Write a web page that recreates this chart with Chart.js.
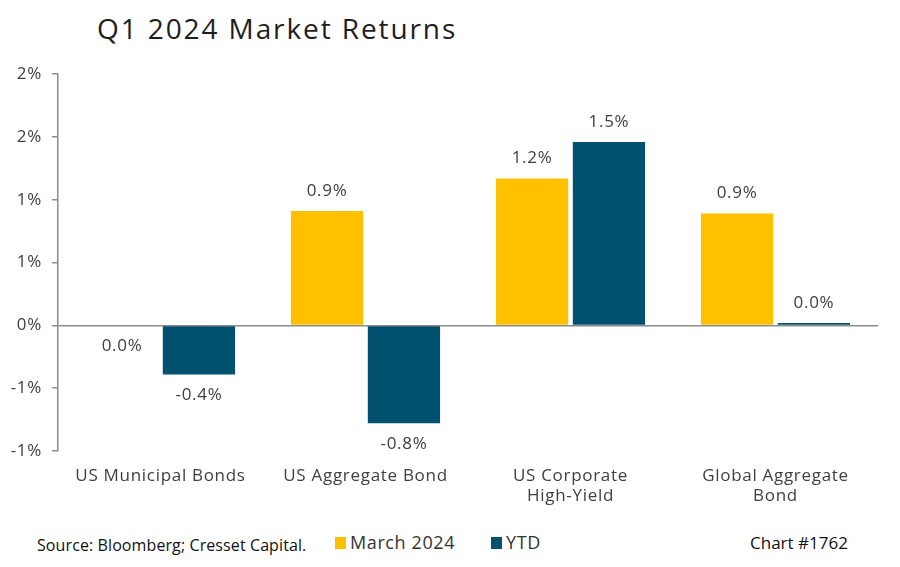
<!DOCTYPE html>
<html>
<head>
<meta charset="utf-8">
<script src="https://cdn.jsdelivr.net/npm/chart.js@4.4.1/dist/chart.umd.min.js"></script>
<style>
    body { margin: 0; background: #fff; }
    #page { position: relative; width: 900px; height: 567px; overflow: hidden; }
    #title { position: absolute; left: 97px; top: 9px; font-family: 'Open Sans', sans-serif; font-size: 28px; letter-spacing: 1.9px; color: #1e1e1e; }
    #chart-wrap { position: absolute; left: 0; top: 54px; width: 900px; height: 456px; }
    #source { position: absolute; left: 37px; top: 534px; font-family: 'Open Sans', sans-serif; font-size: 16px; letter-spacing: 0.1px; color: #111; }
    #legend { position: absolute; left: 335px; top: 530px; font-family: 'Open Sans', sans-serif; font-size: 18px; letter-spacing: 0.6px; color: #333; display: flex; gap: 36px; }
    #legend span.box { display: inline-block; width: 11px; height: 12px; margin-right: 4px; vertical-align: 0px; }
    #chart-no { position: absolute; left: 750px; top: 531px; font-family: 'Open Sans', sans-serif; font-size: 17px; color: #111; }
</style>
</head>
<body>
<div id="page">
    <div id="title">Q1 2024 Market Returns</div>
    <div id="chart-wrap"><canvas id="mainChart"></canvas></div>
    <div id="source">Source: Bloomberg; Cresset Capital.</div>
    <div id="legend"></div>
    <div id="chart-no">Chart #1762</div>
</div>
<script>
// Data
const categories = [['US Municipal Bonds'], ['US Aggregate Bond'], ['US Corporate', 'High-Yield'], ['Global Aggregate', 'Bond']];
const marchReturns = [0.0, 0.91, 1.17, 0.89];
const ytdReturns = [-0.39, -0.78, 1.46, 0.02];
const seriesNames = ['March 2024', 'YTD'];
const seriesColors = ['#FFC000', '#02506F'];

const textColor = '#404040';

// Format data label
const formatPct = (v) => {
    if (Math.abs(v) < 0.05) return '0.0%';
    return v.toFixed(1) + '%';
};

// Format axis tick (Excel-like rounding away from zero)
const formatTick = (v) => {
    const r = Math.round(Math.abs(v));
    return (v < 0 && r !== 0 ? '-' : '') + r + '%';
};

// Wider letter spacing to get closer to the original geometric font
const spacing = {
    id: 'spacing',
    beforeLayout(chart) { chart.ctx.letterSpacing = '0.7px'; },
    beforeDraw(chart) { chart.ctx.letterSpacing = '0.7px'; }
};

// Draw value labels over/under each bar
const barLabels = {
    id: 'barLabels',
    afterDatasetsDraw(chart) {
        const ctx = chart.ctx;
        ctx.save();
        ctx.font = '17px "Open Sans", sans-serif';
        ctx.fillStyle = textColor;
        ctx.textAlign = 'center';
        ctx.textBaseline = 'middle';
        chart.data.datasets.forEach((ds, i) => {
            chart.getDatasetMeta(i).data.forEach((bar, j) => {
                const v = ds.data[j];
                const y = v > 0 ? bar.y - 20 : bar.y + 21;
                ctx.fillText(formatPct(v), bar.x, y);
            });
        });
        ctx.restore();
    }
};

const ctx = document.getElementById('mainChart').getContext('2d');
const mainChart = new Chart(ctx, {
    type: 'bar',
    data: {
        labels: categories,
        datasets: [
            {
                label: seriesNames[0],
                data: marchReturns,
                backgroundColor: seriesColors[0],
                categoryPercentage: 0.75,
                barPercentage: 0.94
            },
            {
                label: seriesNames[1],
                data: ytdReturns,
                backgroundColor: seriesColors[1],
                categoryPercentage: 0.75,
                barPercentage: 0.94
            }
        ]
    },
    options: {
        responsive: true,
        maintainAspectRatio: false,
        animation: false,
        layout: { padding: { top: 7, right: 22, left: 0, bottom: 0 } },
        plugins: {
            legend: { display: false },
            tooltip: { enabled: false }
        },
        scales: {
            x: {
                grid: { display: false },
                border: { display: false },
                ticks: {
                    color: textColor,
                    font: { family: 'Open Sans', size: 17 },
                    padding: 7,
                    maxRotation: 0
                },
                afterFit: (scale) => { scale.height = 59; }
            },
            y: {
                min: -1,
                max: 2,
                ticks: {
                    stepSize: 0.5,
                    color: textColor,
                    font: { family: 'Open Sans', size: 17 },
                    padding: 10,
                    callback: (v) => formatTick(v)
                },
                grid: {
                    color: (c) => (c.tick && c.tick.value === 0 ? '#8c8c8c' : 'transparent'),
                    tickColor: '#8c8c8c',
                    tickLength: 6,
                    lineWidth: 1.5
                },
                border: { display: true, color: '#8c8c8c', width: 1.5 },
                afterFit: (scale) => { scale.width = 58; }
            }
        }
    },
    plugins: [spacing, barLabels]
});

// HTML legend built from datasets
const legendEl = document.getElementById('legend');
mainChart.data.datasets.forEach(ds => {
    const item = document.createElement('div');
    item.innerHTML = `<span class="box" style="background:${ds.backgroundColor}"></span>${ds.label}`;
    legendEl.appendChild(item);
});
</script>
</body>
</html>
